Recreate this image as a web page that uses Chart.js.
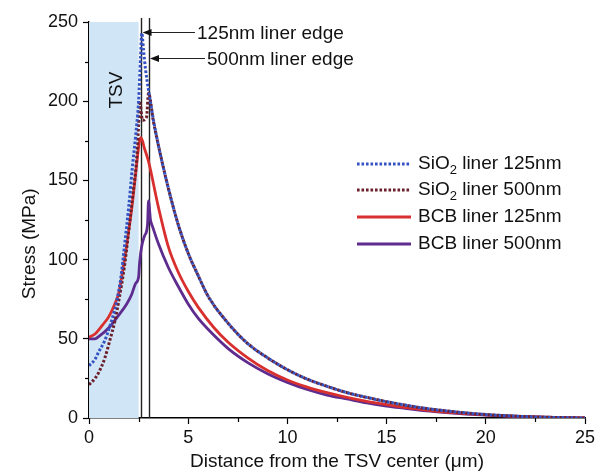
<!DOCTYPE html>
<html>
<head>
<meta charset="utf-8">
<script src="https://cdn.jsdelivr.net/npm/chart.js@4.4.1/dist/chart.umd.min.js"></script>
<style>
  body { margin: 0; background: #fff; }
  canvas { display: block; }
</style>
</head>
<body>
<canvas id="c" width="605" height="474"></canvas>
<script>
// data (x in um, stress in MPa)
var xSio125 = [0, 0.3, 0.5, 0.8, 1.0, 1.2, 1.4, 1.6, 1.8, 2.0, 2.2, 2.35, 2.5, 2.6, 2.66, 2.75, 2.85, 3.0, 3.25, 3.5, 4.0, 4.5, 5.0, 5.5, 6.0, 7.0, 8.0, 9.0, 10, 11, 12, 13, 14, 15, 16, 17, 18, 19, 20, 21, 22, 23, 24, 25];
var ySio125 = [33, 37, 42, 49, 56, 64, 74, 88, 110, 133, 160, 178, 200, 228, 243, 232, 220, 207, 188, 172, 145, 122, 104, 90, 77, 60, 47, 38, 30.5, 24.5, 20, 16, 13, 10.3, 8, 6, 4.5, 3.2, 2.2, 1.5, 0.9, 0.5, 0.2, 0];

var xSio500 = [0, 0.3, 0.5, 0.8, 1.05, 1.3, 1.5, 1.8, 2.0, 2.2, 2.4, 2.5, 2.55, 2.7, 2.9, 3.0, 3.25, 3.5, 4.0, 4.5, 5.0, 5.5, 6.0, 7.0, 8.0, 9.0, 10, 11, 12, 13, 14, 15, 16, 17, 18, 19, 20, 21, 22, 23, 24, 25];
var ySio500 = [21, 25, 29, 38, 49, 61, 74, 97, 118, 140, 163, 185, 200, 188, 190, 205, 187, 172, 145, 122, 104, 90, 77, 60, 47, 38, 30.5, 24.5, 20, 16, 13, 10.3, 8, 6, 4.5, 3.2, 2.2, 1.5, 0.9, 0.5, 0.2, 0];

var xBcb125 = [0, 0.3, 0.7, 1.0, 1.3, 1.5, 1.75, 2.0, 2.2, 2.4, 2.55, 2.625, 2.8, 3.0, 3.5, 4.0, 4.5, 5.0, 5.5, 6.3, 7.0, 8.0, 9.0, 10, 11, 12, 13, 14, 15, 16, 17, 18, 19, 20, 21, 22, 23, 24, 25];
var yBcb125 = [51, 53, 59, 64, 72, 79, 97, 118, 137, 160, 175, 177, 170, 162, 133, 108, 92, 80, 70, 57, 48, 38, 30, 24, 19.5, 16, 13, 10.5, 8.5, 6.5, 5, 3.8, 2.8, 2, 1.4, 0.9, 0.5, 0.2, 0];

var xBcb500 = [0, 0.3, 0.5, 1.0, 1.5, 1.9, 2.15, 2.35, 2.5, 2.55, 2.65, 2.8, 2.95, 3.0, 3.1, 3.2, 3.5, 4.0, 4.5, 5.0, 5.5, 6.0, 7.0, 8.0, 9.0, 10, 11, 12, 13, 14, 15, 16, 17, 18, 19, 20, 21, 22, 23, 24, 25];
var yBcb500 = [50, 50, 51.5, 57, 65, 72, 78, 85, 89, 98, 108, 115, 122, 137, 125, 121, 110, 95, 83, 72, 63, 56, 44, 35, 28, 22.5, 18, 14.5, 12, 9.5, 7.5, 6, 4.5, 3.4, 2.5, 1.8, 1.2, 0.8, 0.4, 0.15, 0];

var seriesNames = ["SiO\u2082 liner 125nm", "SiO\u2082 liner 500nm", "BCB liner 125nm", "BCB liner 500nm"];
var xTicksMajor = [0, 5, 10, 15, 20, 25];
var yTicksMajor = [0, 50, 100, 150, 200, 250];
var tsvRadius = 2.5;
var linerEdges = [2.625, 3.0];
var edgeLabels = ["125nm liner edge", "500nm liner edge"];

var FONT = "'Liberation Sans', Arial, sans-serif";

function pts(xs, ys) {
    var out = [];
    for (var i = 0; i < xs.length; i++) out.push({x: xs[i], y: ys[i]});
    return out;
}

function ds(label, xs, ys, color, dotted) {
    return {
        label: label,
        data: pts(xs, ys),
        borderColor: color,
        backgroundColor: color,
        borderWidth: dotted ? 3 : 2.8,
        borderDash: dotted ? [2.6, 1.9] : [],
        pointRadius: 0,
        fill: false,
        cubicInterpolationMode: 'monotone'
    };
}

// shading, edge lines, arrows, legend, minor ticks, y title
var extras = {
    id: 'extras',
    beforeDatasetsDraw: function(chart) {
        var ctx = chart.ctx, x = chart.scales.x, y = chart.scales.y;
        var top = y.getPixelForValue(250), bot = y.getPixelForValue(0);
        ctx.save();
        ctx.fillStyle = '#d0e5f5';
        ctx.fillRect(x.getPixelForValue(0), top, x.getPixelForValue(tsvRadius) - x.getPixelForValue(0), bot - top);
        ctx.strokeStyle = '#222';
        ctx.lineWidth = 1.4;
        linerEdges.forEach(function(e) {
            var px = Math.round(x.getPixelForValue(e)) + 0.5;
            ctx.beginPath();
            ctx.moveTo(px, bot);
            ctx.lineTo(px, top - 4);
            ctx.stroke();
        });
        // TSV label
        ctx.translate(x.getPixelForValue(1.4), y.getPixelForValue(207));
        ctx.rotate(-Math.PI / 2);
        ctx.fillStyle = '#111';
        ctx.font = '19px ' + FONT;
        ctx.textAlign = 'center';
        ctx.textBaseline = 'middle';
        ctx.fillText('TSV', 0, 0);
        ctx.restore();
    },
    afterDraw: function(chart) {
        var ctx = chart.ctx, x = chart.scales.x, y = chart.scales.y;
        ctx.save();
        // minor ticks
        ctx.strokeStyle = '#000';
        ctx.lineWidth = 1.2;
        var bot = y.getPixelForValue(0), left = x.getPixelForValue(0);
        for (var v = 2.5; v < 25; v += 5) {
            var px = Math.round(x.getPixelForValue(v)) + 0.5;
            ctx.beginPath(); ctx.moveTo(px, bot); ctx.lineTo(px, bot + 4); ctx.stroke();
        }
        for (var w = 25; w < 250; w += 50) {
            var py = Math.round(y.getPixelForValue(w)) + 0.5;
            ctx.beginPath(); ctx.moveTo(left, py); ctx.lineTo(left - 4, py); ctx.stroke();
        }
        // y axis title
        ctx.save();
        ctx.translate(30, y.getPixelForValue(110));
        ctx.rotate(-Math.PI / 2);
        ctx.fillStyle = '#111';
        ctx.font = '19px ' + FONT;
        ctx.textAlign = 'center';
        ctx.textBaseline = 'middle';
        ctx.fillText('Stress (MPa)', 0, 0);
        ctx.restore();
        // edge arrows
        ctx.font = '19px ' + FONT;
        ctx.textBaseline = 'middle';
        ctx.fillStyle = '#111';
        ctx.strokeStyle = '#222';
        ctx.lineWidth = 1.2;
        var arrowY = [y.getPixelForValue(244), y.getPixelForValue(227)];
        var textX = [197, 207];
        for (var i = 0; i < 2; i++) {
            var ex = x.getPixelForValue(linerEdges[i]) + 1.5;
            var ay = Math.round(arrowY[i]) + 0.5;
            ctx.beginPath();
            ctx.moveTo(ex + 6, ay);
            ctx.lineTo(textX[i] - 2, ay);
            ctx.stroke();
            ctx.beginPath();
            ctx.moveTo(ex, ay);
            ctx.lineTo(ex + 9, ay - 3.5);
            ctx.lineTo(ex + 9, ay + 3.5);
            ctx.closePath();
            ctx.fill();
            ctx.fillText(edgeLabels[i], textX[i], ay + 1);
        }
        // legend
        var rows = [164, 190, 217, 244];
        chart.data.datasets.forEach(function(d, k) {
            var ry = rows[k];
            ctx.strokeStyle = d.borderColor;
            ctx.lineWidth = d.borderWidth;
            ctx.setLineDash(d.borderDash);
            ctx.beginPath();
            ctx.moveTo(357, ry);
            ctx.lineTo(411, ry);
            ctx.stroke();
            ctx.setLineDash([]);
            ctx.fillStyle = '#111';
            ctx.font = '19px ' + FONT;
            var label = d.label;
            var tx = 418;
            if (label.indexOf('\u2082') > 0) {
                var parts = label.split('\u2082');
                ctx.fillText(parts[0], tx, ry);
                tx += ctx.measureText(parts[0]).width;
                ctx.font = '13px ' + FONT;
                ctx.fillText('2', tx, ry + 6);
                tx += ctx.measureText('2').width;
                ctx.font = '19px ' + FONT;
                ctx.fillText(parts[1], tx, ry);
            } else {
                ctx.fillText(label, tx, ry);
            }
        });
        ctx.restore();
    }
};

var ctx = document.getElementById('c').getContext('2d');
var myChart = new Chart(ctx, {
    type: 'line',
    data: {
        datasets: [
            ds(seriesNames[0], xSio125, ySio125, '#3452c2', true),
            ds(seriesNames[1], xSio500, ySio500, '#6a1f2b', true),
            ds(seriesNames[2], xBcb125, yBcb125, '#d8302f', false),
            ds(seriesNames[3], xBcb500, yBcb500, '#5e2b8e', false)
        ]
    },
    options: {
        responsive: false,
        animation: false,
        layout: { padding: { left: 0, top: 22, right: 20, bottom: 0 } },
        plugins: { legend: { display: false }, tooltip: { enabled: false } },
        scales: {
            x: {
                type: 'linear',
                min: 0, max: 25,
                afterBuildTicks: function(s) { s.ticks = xTicksMajor.map(function(v) { return {value: v}; }); },
                afterFit: function(s) { s.height = 56; },
                border: { display: true, color: '#000', width: 1.4 },
                grid: { drawOnChartArea: false, drawTicks: true, tickLength: 6, tickColor: '#000', tickWidth: 1.2 },
                ticks: { color: '#111', font: { family: FONT, size: 18 }, padding: 3, maxRotation: 0 },
                title: { display: true, text: 'Distance from the TSV center (\u03bcm)', color: '#111',
                         font: { family: FONT, size: 19 }, padding: { top: 0, bottom: 1 } }
            },
            y: {
                min: 0, max: 250,
                afterBuildTicks: function(s) { s.ticks = yTicksMajor.map(function(v) { return {value: v}; }); },
                afterFit: function(s) { s.width = 89; },
                border: { display: true, color: '#000', width: 1.4 },
                grid: { drawOnChartArea: false, drawTicks: true, tickLength: 6, tickColor: '#000', tickWidth: 1.2 },
                ticks: { color: '#111', font: { family: FONT, size: 18 }, padding: 5 },
                title: { display: false }
            }
        }
    },
    plugins: [extras]
});
</script>
</body>
</html>
